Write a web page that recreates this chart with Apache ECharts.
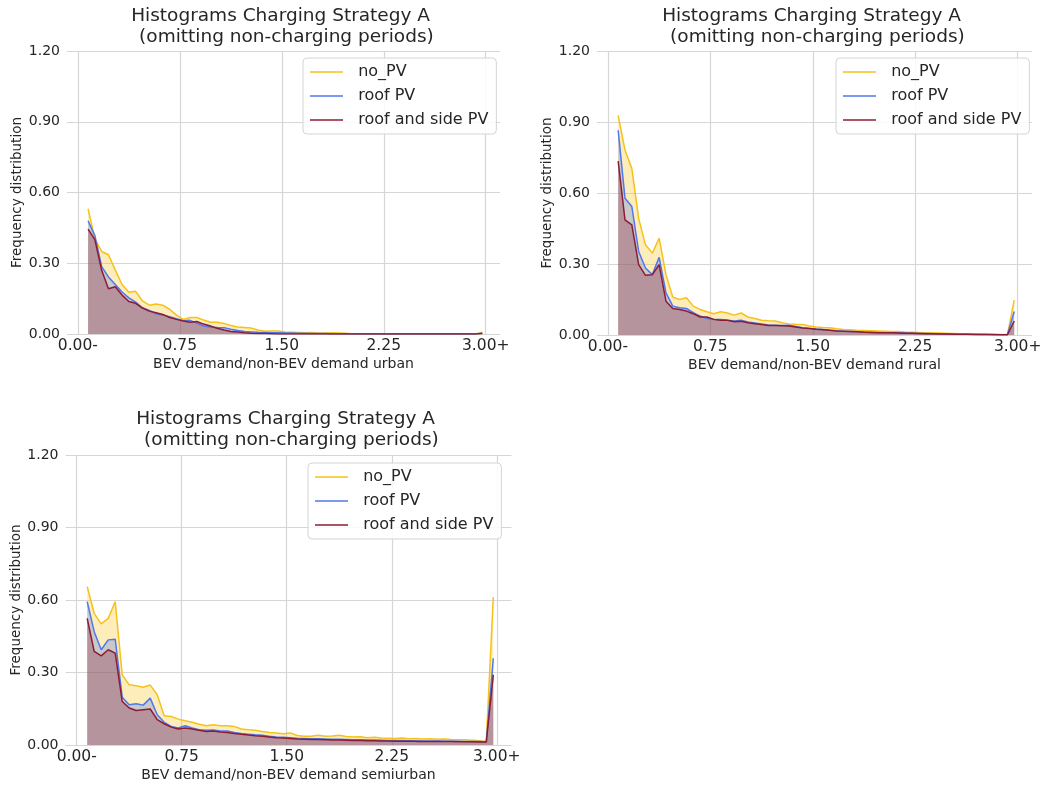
<!DOCTYPE html>
<html>
<head>
<meta charset="utf-8">
<script src="https://cdn.jsdelivr.net/npm/echarts@6/dist/echarts.min.js"></script>
<style>
  html, body { margin: 0; padding: 0; background: #fff; }
  #chart { width: 1045px; height: 787px; }
</style>
</head>
<body>
<div id="chart"></div>
<script>
/* Histograms Charging Strategy A — three panels (urban / rural / semiurban) */

const binCenters = [
  0.075, 0.125, 0.175, 0.225, 0.275, 0.325, 0.375, 0.425, 0.475, 0.525,
  0.575, 0.625, 0.675, 0.725, 0.775, 0.825, 0.875, 0.925, 0.975, 1.025,
  1.075, 1.125, 1.175, 1.225, 1.275, 1.325, 1.375, 1.425, 1.475, 1.525,
  1.575, 1.625, 1.675, 1.725, 1.775, 1.825, 1.875, 1.925, 1.975, 2.025,
  2.075, 2.125, 2.175, 2.225, 2.275, 2.325, 2.375, 2.425, 2.475, 2.525,
  2.575, 2.625, 2.675, 2.725, 2.775, 2.825, 2.875, 2.925, 2.975
];
const xTickValues = [0, 0.75, 1.5, 2.25, 3];
const xTickLabels = ['0.00-', '0.75', '1.50', '2.25', '3.00+'];
const seriesNames = ['no_PV', 'roof PV', 'roof and side PV'];

// urban
const urbanNoPV = [
  0.531, 0.403, 0.350, 0.336, 0.272, 0.210, 0.177, 0.181, 0.140, 0.122,
  0.127, 0.122, 0.105, 0.080, 0.062, 0.070, 0.070, 0.059, 0.050, 0.050,
  0.045, 0.036, 0.030, 0.028, 0.025, 0.017, 0.012, 0.013, 0.013, 0.008,
  0.007, 0.006, 0.005, 0.006, 0.004, 0.004, 0.005, 0.004, 0.003, 0,
  0, 0, 0, 0, 0, 0, 0, 0, 0, 0,
  0, 0, 0, 0, 0, 0, 0, 0, 0.008
];
const urbanRoofPV = [
  0.480, 0.417, 0.286, 0.242, 0.210, 0.178, 0.153, 0.135, 0.111, 0.100,
  0.086, 0.080, 0.073, 0.065, 0.056, 0.058, 0.046, 0.034, 0.030, 0.028,
  0.027, 0.020, 0.015, 0.011, 0.009, 0.007, 0.006, 0.005, 0.005, 0.004,
  0.004, 0.003, 0.003, 0.002, 0.002, 0.002, 0, 0, 0, 0,
  0, 0, 0, 0, 0, 0, 0, 0, 0, 0,
  0, 0, 0, 0, 0, 0, 0, 0, 0.003
];
const urbanRoofSidePV = [
  0.445, 0.400, 0.270, 0.192, 0.200, 0.165, 0.138, 0.130, 0.110, 0.097,
  0.090, 0.083, 0.070, 0.062, 0.055, 0.050, 0.053, 0.042, 0.034, 0.024,
  0.017, 0.011, 0.008, 0.005, 0.003, 0.002, 0.002, 0.001, 0, 0,
  0, 0, 0, 0, 0, 0, 0, 0, 0, 0,
  0, 0, 0, 0, 0, 0, 0, 0, 0, 0,
  0, 0, 0, 0, 0, 0, 0, 0, 0.002
];

// rural
const ruralNoPV = [
  0.928, 0.781, 0.704, 0.493, 0.381, 0.346, 0.409, 0.255, 0.160, 0.150,
  0.157, 0.122, 0.108, 0.098, 0.090, 0.098, 0.093, 0.084, 0.093, 0.076,
  0.070, 0.062, 0.060, 0.059, 0.052, 0.047, 0.045, 0.044, 0.038, 0.034,
  0.032, 0.031, 0.026, 0.023, 0.022, 0.020, 0.019, 0.018, 0.017, 0.016,
  0.015, 0.015, 0.013, 0.012, 0.011, 0.010, 0.009, 0.008, 0.007, 0.006,
  0.005, 0.005, 0.004, 0.004, 0.003, 0.003, 0.002, 0.002, 0.147
];
const ruralRoofPV = [
  0.865, 0.578, 0.543, 0.353, 0.283, 0.255, 0.328, 0.178, 0.122, 0.115,
  0.112, 0.094, 0.080, 0.070, 0.066, 0.066, 0.062, 0.059, 0.062, 0.055,
  0.051, 0.046, 0.042, 0.041, 0.040, 0.041, 0.036, 0.031, 0.028, 0.025,
  0.023, 0.020, 0.018, 0.016, 0.015, 0.014, 0.013, 0.012, 0.011, 0.010,
  0.009, 0.009, 0.008, 0.007, 0.006, 0.006, 0.005, 0.005, 0.004, 0.004,
  0.003, 0.003, 0.003, 0.002, 0.002, 0.002, 0.001, 0.001, 0.099
];
const ruralRoofSidePV = [
  0.735, 0.486, 0.465, 0.297, 0.252, 0.255, 0.297, 0.143, 0.112, 0.108,
  0.101, 0.090, 0.076, 0.076, 0.066, 0.062, 0.062, 0.056, 0.058, 0.052,
  0.048, 0.044, 0.040, 0.040, 0.039, 0.038, 0.034, 0.030, 0.027, 0.024,
  0.022, 0.020, 0.017, 0.016, 0.015, 0.014, 0.012, 0.011, 0.010, 0.010,
  0.009, 0.008, 0.007, 0.007, 0.006, 0.005, 0.005, 0.004, 0.004, 0.003,
  0.003, 0.003, 0.002, 0.002, 0.002, 0.001, 0.001, 0.001, 0.059
];

// semiurban
const semiurbanNoPV = [
  0.655, 0.545, 0.501, 0.524, 0.593, 0.290, 0.249, 0.245, 0.239, 0.248,
  0.208, 0.121, 0.118, 0.107, 0.100, 0.094, 0.086, 0.080, 0.084, 0.080,
  0.080, 0.077, 0.066, 0.063, 0.061, 0.056, 0.052, 0.050, 0.047, 0.050,
  0.039, 0.036, 0.036, 0.040, 0.036, 0.037, 0.040, 0.035, 0.033, 0.034,
  0.030, 0.032, 0.029, 0.028, 0.027, 0.029, 0.026, 0.027, 0.025, 0.026,
  0.024, 0.025, 0.023, 0.022, 0.022, 0.020, 0.018, 0.015, 0.612
];
const semiurbanRoofPV = [
  0.593, 0.469, 0.394, 0.435, 0.438, 0.198, 0.167, 0.171, 0.165, 0.194,
  0.125, 0.094, 0.077, 0.070, 0.080, 0.070, 0.063, 0.061, 0.062, 0.058,
  0.058, 0.052, 0.048, 0.045, 0.042, 0.040, 0.036, 0.033, 0.032, 0.030,
  0.028, 0.027, 0.026, 0.026, 0.025, 0.024, 0.024, 0.023, 0.022, 0.022,
  0.021, 0.021, 0.020, 0.019, 0.019, 0.019, 0.018, 0.018, 0.017, 0.017,
  0.017, 0.016, 0.016, 0.016, 0.015, 0.015, 0.014, 0.013, 0.359
];
const semiurbanRoofSidePV = [
  0.524, 0.387, 0.369, 0.394, 0.380, 0.180, 0.153, 0.143, 0.146, 0.149,
  0.105, 0.088, 0.074, 0.066, 0.070, 0.066, 0.061, 0.056, 0.058, 0.054,
  0.052, 0.048, 0.044, 0.041, 0.038, 0.036, 0.033, 0.030, 0.029, 0.027,
  0.025, 0.024, 0.023, 0.023, 0.022, 0.021, 0.021, 0.020, 0.019, 0.019,
  0.018, 0.018, 0.017, 0.017, 0.016, 0.016, 0.016, 0.015, 0.015, 0.015,
  0.014, 0.014, 0.014, 0.013, 0.013, 0.013, 0.012, 0.012, 0.290
];

const FONT = "'DejaVu Sans', sans-serif";
const TEXT = '#262626';
const GRIDLINE = '#d6d6d6';
const COLORS = ['#f5c21b', '#5077ee', '#8c1c34'];

const panels = [
  { xName: 'BEV demand/non-BEV demand urban', values: [urbanNoPV, urbanRoofPV, urbanRoofSidePV],
    grid: { left: 67, top: 51, width: 433, height: 283 }, legend: { left: 303, top: 58 }, titleTop: 6 },
  { xName: 'BEV demand/non-BEV demand rural', values: [ruralNoPV, ruralRoofPV, ruralRoofSidePV],
    grid: { left: 597, top: 51, width: 435, height: 284 }, legend: { left: 836, top: 58 }, titleTop: 6 },
  { xName: 'BEV demand/non-BEV demand semiurban', values: [semiurbanNoPV, semiurbanRoofPV, semiurbanRoofSidePV],
    grid: { left: 65.5, top: 455, width: 446, height: 290 }, legend: { left: 308, top: 463 }, titleTop: 409 }
];

const chart = echarts.init(document.getElementById('chart'), null, { renderer: 'canvas' });

const series = [];
panels.forEach((p, k) => {
  p.values.forEach((vals, s) => {
    series.push({
      type: 'line', name: seriesNames[s], xAxisIndex: k, yAxisIndex: k,
      data: binCenters.map((x, i) => [x, vals[i]]),
      symbol: 'none', color: COLORS[s],
      lineStyle: { color: COLORS[s], width: 1.5 },
      areaStyle: { color: COLORS[s], opacity: 0.3 },
      silent: true, animation: false
    });
  });
});

chart.setOption({
  backgroundColor: '#fff',
  textStyle: { fontFamily: FONT },
  title: panels.map(p => ({
    text: 'Histograms Charging Strategy A \n (omitting non-charging periods)',
    left: p.grid.left + p.grid.width / 2, top: p.titleTop, textAlign: 'center', padding: 0,
    textStyle: { fontFamily: FONT, fontSize: 18.5, fontWeight: 'normal', color: TEXT, lineHeight: 20.5 }
  })),
  legend: panels.map(p => ({
    data: seriesNames, orient: 'vertical', left: p.legend.left, top: p.legend.top,
    icon: 'rect', itemWidth: 33, itemHeight: 1.5, itemGap: 8,
    padding: [6, 8, 6, 7], selectedMode: false,
    backgroundColor: 'rgba(255,255,255,0.85)', borderColor: '#d4d4d4', borderWidth: 1, borderRadius: 4,
    formatter: n => '  ' + n,
    textStyle: { fontFamily: FONT, fontSize: 16, color: TEXT }
  })),
  grid: panels.map(p => Object.assign({ containLabel: false }, p.grid)),
  xAxis: panels.map((p, k) => ({
    type: 'value', gridIndex: k, min: -0.08, max: 3.105,
    name: p.xName, nameLocation: 'middle', nameGap: 23,
    nameTextStyle: { fontFamily: FONT, fontSize: 14, color: TEXT },
    axisLine: { show: false },
    axisTick: { show: false, customValues: xTickValues },
    axisLabel: {
      customValues: xTickValues, margin: 4, fontSize: 15.5, color: TEXT, fontFamily: FONT,
      formatter: v => xTickLabels[xTickValues.indexOf(v)]
    },
    splitLine: { show: true, lineStyle: { color: GRIDLINE, width: 1.2 } }
  })),
  yAxis: panels.map((p, k) => ({
    type: 'value', gridIndex: k, min: 0, max: 1.2, interval: 0.3,
    name: 'Frequency distribution', nameLocation: 'middle', nameGap: 42,
    nameTextStyle: { fontFamily: FONT, fontSize: 13.5, color: TEXT },
    axisLine: { show: false }, axisTick: { show: false },
    axisLabel: { margin: 7, fontSize: 14, color: TEXT, fontFamily: FONT, formatter: v => v.toFixed(2) },
    splitLine: { show: true, lineStyle: { color: GRIDLINE, width: 1.2 } }
  })),
  series
});
</script>
</body>
</html>
